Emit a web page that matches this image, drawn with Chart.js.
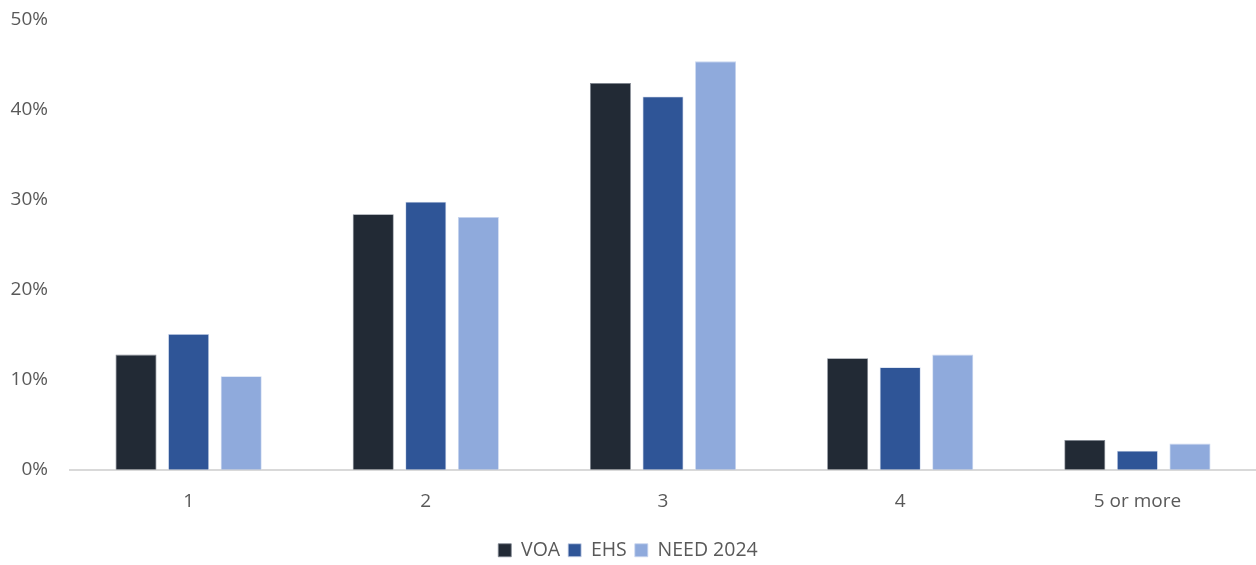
<!DOCTYPE html>
<html>
<head>
<meta charset="utf-8">
<script src="https://cdn.jsdelivr.net/npm/chart.js@4/dist/chart.umd.min.js"></script>
<style>
  html, body { margin: 0; padding: 0; background: #ffffff; }
  #wrap { width: 1256px; height: 565px; position: relative; }
</style>
</head>
<body>
<div id="wrap"><canvas id="c" width="1256" height="565"></canvas></div>
<script>
// Share of dwellings by number of bedrooms, three sources
const categories = ['1', '2', '3', '4', '5 or more'];
const voa = [0.128, 0.284, 0.430, 0.124, 0.033];
const ehs = [0.151, 0.298, 0.415, 0.114, 0.021];
const need2024 = [0.104, 0.281, 0.454, 0.128, 0.029];
const seriesNames = ['VOA', 'EHS', 'NEED 2024'];
const yTicks = [0, 0.1, 0.2, 0.3, 0.4, 0.5];

const colors = ['#222a35', '#2f5597', '#8faadc'];
const edge = ['#7f8590', '#c9d4ea', '#c9d6ef'];
const textColor = '#595959';
const fontFamily = '"Open Sans", "Noto Sans", sans-serif';

const data = {
  labels: categories,
  datasets: [voa, ehs, need2024].map((vals, i) => ({
    label: seriesNames[i],
    data: vals,
    backgroundColor: colors[i],
    borderColor: edge[i],
    borderWidth: 0.8,
    barPercentage: 0.78,
    categoryPercentage: 0.665
  }))
};

new Chart(document.getElementById('c'), {
  type: 'bar',
  data,
  options: {
    responsive: false,
    animation: false,
    devicePixelRatio: 1,
    layout: { padding: { left: 0, right: 0, top: 0, bottom: -5 } },
    plugins: {
      legend: {
        position: 'bottom',
        labels: {
          color: textColor,
          font: { family: fontFamily, size: 19.5 },
          boxWidth: 13,
          boxHeight: 13,
          padding: 8,
          useBorderRadius: false
        }
      },
      tooltip: { enabled: false }
    },
    scales: {
      x: {
        grid: { display: false, drawTicks: false },
        border: { display: true, color: '#d9d9d9', width: 2 },
        ticks: { color: textColor, font: { family: fontFamily, size: 19 }, padding: 20 }
      },
      y: {
        min: 0,
        max: 0.5,
        afterBuildTicks: (axis) => { axis.ticks = yTicks.map(v => ({ value: v })); },
        afterFit: (axis) => {
          axis.width = 70;
          // keep the label gap from inflating the space above the plot
          axis.paddingTop = 20;
          axis.paddingBottom = 12;
        },
        grid: { display: false, drawTicks: false },
        border: { display: false },
        ticks: {
          color: textColor,
          font: { family: fontFamily, size: 19 },
          padding: 22,
          callback: (v) => Math.round(v * 100) + '%'
        }
      }
    }
  }
});
</script>
</body>
</html>
